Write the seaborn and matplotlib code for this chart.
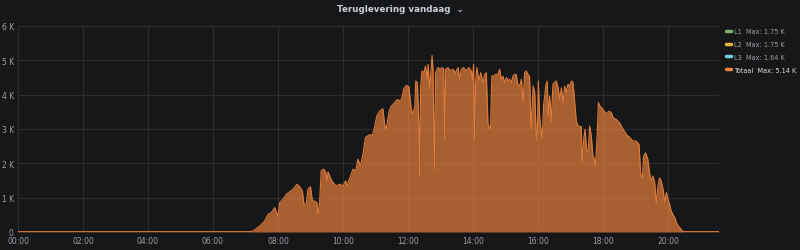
import matplotlib
matplotlib.use("Agg")
import matplotlib.pyplot as plt
from matplotlib.lines import Line2D
import numpy as np
import pandas as pd
import seaborn as sns

# ---- data -------------------------------------------------------------
hours = [
    0.00, 7.13, 7.23, 7.38, 7.49, 7.59, 7.69, 7.79, 7.90, 7.95, 8.00, 8.05,
    8.15, 8.26, 8.36, 8.46, 8.58, 8.67, 8.75, 8.80, 8.87, 8.92, 9.00, 9.06,
    9.13, 9.20, 9.23, 9.28, 9.33, 9.41, 9.47, 9.51, 9.54, 9.61, 9.69, 9.79,
    9.90, 10.00, 10.08, 10.12, 10.21, 10.31, 10.39, 10.46, 10.54, 10.62, 10.69, 10.82,
    10.90, 10.97, 11.04, 11.13, 11.23, 11.28, 11.33, 11.42, 11.49, 11.59, 11.67, 11.73,
    11.80, 11.87, 11.95, 12.03, 12.10, 12.15, 12.21, 12.24, 12.29, 12.34, 12.36, 12.39,
    12.43, 12.49, 12.54, 12.59, 12.62, 12.67, 12.74, 12.77, 12.82, 12.85, 12.92, 12.99,
    13.05, 13.10, 13.13, 13.16, 13.23, 13.30, 13.38, 13.46, 13.54, 13.59, 13.64, 13.71,
    13.79, 13.87, 13.95, 13.98, 14.02, 14.05, 14.08, 14.12, 14.18, 14.24, 14.31, 14.36,
    14.41, 14.46, 14.51, 14.54, 14.58, 14.63, 14.70, 14.77, 14.82, 14.87, 14.92, 14.97,
    15.03, 15.08, 15.13, 15.18, 15.23, 15.28, 15.33, 15.38, 15.44, 15.49, 15.54, 15.59,
    15.64, 15.69, 15.74, 15.79, 15.85, 15.90, 15.95, 15.98, 16.01, 16.05, 16.10, 16.13,
    16.17, 16.24, 16.28, 16.32, 16.36, 16.41, 16.46, 16.51, 16.56, 16.62, 16.67, 16.72,
    16.77, 16.82, 16.87, 16.92, 16.97, 17.03, 17.08, 17.13, 17.18, 17.23, 17.33, 17.36,
    17.41, 17.45, 17.49, 17.54, 17.59, 17.64, 17.69, 17.74, 17.77, 17.82, 17.86, 17.90,
    18.00, 18.10, 18.18, 18.26, 18.31, 18.41, 18.51, 18.62, 18.72, 18.82, 18.92, 19.02,
    19.11, 19.16, 19.21, 19.25, 19.31, 19.38, 19.44, 19.49, 19.54, 19.59, 19.64, 19.69,
    19.74, 19.79, 19.85, 19.90, 19.95, 20.00, 20.05, 20.10, 20.15, 20.21, 20.28, 20.36,
    20.44, 20.51, 21.57,
]
totaal_kw = [
    0.01, 0.01, 0.03, 0.13, 0.22, 0.32, 0.51, 0.56, 0.71, 0.56, 0.47, 0.85,
    0.95, 1.10, 1.17, 1.24, 1.39, 1.32, 1.19, 0.81, 0.81, 1.24, 1.32, 0.90,
    0.90, 0.85, 0.51, 0.85, 1.78, 1.83, 1.73, 1.49, 1.75, 1.58, 1.44, 1.34,
    1.39, 1.34, 1.49, 1.34, 1.58, 1.83, 1.78, 2.12, 1.92, 2.31, 2.75, 2.84,
    2.80, 3.04, 3.38, 3.52, 3.59, 3.13, 2.99, 3.52, 3.67, 3.77, 3.86, 3.82,
    3.86, 4.17, 4.27, 4.23, 3.57, 3.43, 3.67, 4.40, 4.35, 2.99, 1.63, 4.25,
    4.69, 4.64, 4.83, 4.45, 4.88, 4.16, 5.14, 4.74, 1.83, 4.64, 4.79, 4.74,
    4.79, 4.74, 2.70, 4.74, 4.79, 4.69, 4.74, 4.64, 4.79, 4.45, 4.74, 4.79,
    4.69, 4.79, 4.69, 4.45, 4.88, 2.70, 4.35, 4.79, 4.40, 4.64, 4.35, 4.59,
    4.64, 3.18, 2.99, 3.04, 4.54, 4.54, 4.59, 4.59, 4.74, 4.45, 4.54, 4.35,
    4.50, 4.40, 4.45, 4.35, 4.54, 4.59, 4.59, 4.30, 4.25, 4.45, 3.77, 4.64,
    4.69, 4.59, 4.54, 2.99, 4.25, 4.06, 2.70, 2.89, 4.40, 3.38, 2.89, 2.75,
    3.67, 4.25, 4.40, 3.38, 3.96, 3.23, 4.30, 4.35, 4.40, 4.20, 3.86, 4.20,
    3.77, 4.25, 4.06, 4.30, 4.25, 4.40, 4.35, 3.77, 3.23, 3.09, 3.07, 2.02,
    2.75, 2.99, 2.41, 2.31, 3.09, 2.80, 2.21, 2.12, 1.92, 2.80, 3.77, 3.67,
    3.57, 3.43, 3.52, 3.47, 3.33, 3.28, 3.18, 2.99, 2.84, 2.75, 2.65, 2.65,
    2.55, 1.68, 1.58, 2.21, 2.31, 2.12, 1.68, 1.49, 1.63, 1.44, 0.85, 1.34,
    1.58, 1.49, 1.24, 0.85, 1.15, 0.95, 0.81, 0.61, 0.51, 0.42, 0.22, 0.13,
    0.03, 0.01, 0.01,
]
series_names = ["L1", "L2", "L3", "Totaal"]
series_max = ["1.75 K", "1.75 K", "1.64 K", "5.14 K"]
y_ticks = [0, 1000, 2000, 3000, 4000, 5000, 6000]
y_labels = ["0", "1 K", "2 K", "3 K", "4 K", "5 K", "6 K"]
x_ticks = [0, 2, 4, 6, 8, 10, 12, 14, 16, 18, 20]
x_labels = ["00:00", "02:00", "04:00", "06:00", "08:00", "10:00",
            "12:00", "14:00", "16:00", "18:00", "20:00"]
title = "Teruglevering vandaag"

# ---- style ------------------------------------------------------------
BG = "#161719"
GRID = "#2c2d31"
TXT = "#c7d0d9"
colors = ["#7EB26D", "#EAB839", "#6ED0E0", "#EF843C"]

sns.set_style("dark", {"axes.facecolor": BG, "figure.facecolor": BG})
plt.rcParams["font.family"] = ["DejaVu Sans"]

df = pd.DataFrame({"hour": hours, "watt": np.array(totaal_kw) * 1000})

fig = plt.figure(figsize=(8.0, 2.51), dpi=100, facecolor=BG)
ax = fig.add_axes([18 / 800, 1 - 233 / 251, (719 - 18) / 800, (233 - 27) / 251])
ax.set_facecolor(BG)

ax.fill_between(df["hour"], 0, df["watt"], color=colors[3], alpha=0.68,
                linewidth=0, zorder=2)
sns.lineplot(data=df, x="hour", y="watt", ax=ax, color="#e07b3a",
             linewidth=0.8, zorder=3, legend=False)

ax.set_xlim(0, 21.57)
ax.set_ylim(0, 6000)
ax.set_xticks(x_ticks)
ax.set_xticklabels(x_labels)
ax.set_yticks(y_ticks)
ax.set_yticklabels(y_labels)
ax.tick_params(axis="both", colors="#9fa0a4", labelsize=5.5, length=0, pad=3)
ax.grid(True, color=GRID, linewidth=0.8, zorder=0)
ax.set_axisbelow(True)
ax.set_xlabel("")
ax.set_ylabel("")
for s in ax.spines.values():
    s.set_visible(False)

fig.text(0.5, 1 - 10 / 251, title + "  \u2304", ha="center", va="center",
         color=TXT, fontsize=6.3, fontweight="bold")

handles = [Line2D([0], [0], color=c, linewidth=2.5) for c in colors]
labels = [f"{n}  Max: {m}" for n, m in zip(series_names, series_max)]
leg = fig.legend(handles, labels, loc="upper left",
                 bbox_to_anchor=(726 / 800, 1 - 29 / 251),
                 frameon=False, fontsize=4.7, handlelength=0.8,
                 handletextpad=0.45, labelspacing=1.05, borderaxespad=0,
                 borderpad=0)
for i, t in enumerate(leg.get_texts()):
    t.set_color("#e0e0e0" if i == 3 else "#9fa0a4")

fig.savefig("out.png", dpi=100, facecolor=BG)
